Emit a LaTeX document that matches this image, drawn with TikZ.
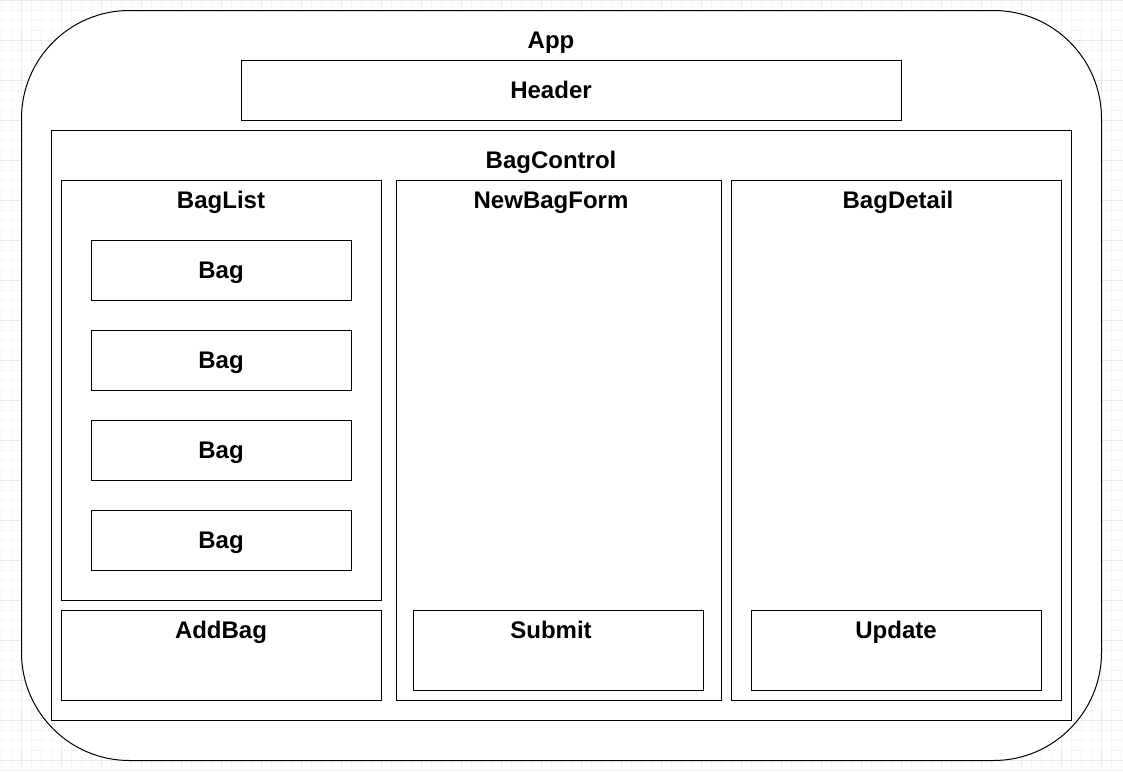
\documentclass[tikz,border=0pt]{standalone}
\usepackage{fontspec}
\setmainfont{Liberation Sans}
\usetikzlibrary{positioning}
\newcommand{\minorgrid}{black!4}
\newcommand{\majorgrid}{black!8}
\newcommand{\lblfont}{\fontsize{12}{14}\selectfont\bfseries}

\begin{document}
\begin{tikzpicture}[x=0.5pt,y=-0.5pt,
        comp/.style 2 args={draw, line width=0.5pt, fill=white, anchor=north west,
            inner sep=0pt, minimum width={#1*0.5pt}, minimum height={#2*0.5pt}},
        lbl/.style={anchor=base, inner sep=0pt, font=\lblfont}]
        \useasboundingbox (0,0) rectangle (1123,771);
        %\fill[white] (0,0) rectangle (1123,771);
        \foreach \gx in {1,11,...,1121} \draw[\minorgrid, line width=0.3pt] (\gx,0) -- (\gx,771);
        \foreach \gy in {0,10,...,770} \draw[\minorgrid, line width=0.3pt] (0,\gy) -- (1123,\gy);
        \foreach \gx in {21,61,...,1101} \draw[\majorgrid, line width=0.3pt] (\gx,0) -- (\gx,771);
        \foreach \gy in {0,40,...,760} \draw[\majorgrid, line width=0.3pt] (0,\gy) -- (1123,\gy);
        % App
        \node[comp={1080}{750}, rounded corners=54pt] (app) at (21,10) {};
        \node[lbl] (applbl) at (551,48.5) {App};
        \node[comp={660}{60}] (header) at (241,60) {};
        \node[lbl] (headerlbl) at (551,98.5) {Header};
        % BagControl
        \node[comp={1020}{590}] (bagcontrol) at (51,130) {};
        \node[lbl] (bagcontrollbl) at (551,168.5) {BagControl};
        % BagList
        \node[comp={320}{420}] (baglist) at (61,180) {};
        \node[lbl] (bagliststlbl) at (221,208.5) {BagList};
        \foreach \by/\bname in {240/baga,330/bagb,420/bagc,510/bagd} {
            \node[comp={260}{60}] (\bname) at (91,\by) {};
            \node[lbl] (\bname lbl) at (221,\by+38.5) {Bag};
        }
        \node[comp={320}{90}] (addbag) at (61,610) {};
        \node[lbl] (addbaglbl) at (221,638.5) {AddBag};
        % NewBagForm
        \node[comp={325}{520}] (newbagform) at (396,180) {};
        \node[lbl] (newbagformlbl) at (551,208.5) {NewBagForm};
        \node[comp={290}{80}] (submit) at (413,610) {};
        \node[lbl] (submitlbl) at (551,638.5) {Submit};
        % BagDetail
        \node[comp={330}{520}] (bagdetail) at (731,180) {};
        \node[lbl] (bagdetaillbl) at (898,208.5) {BagDetail};
        \node[comp={290}{80}] (update) at (751,610) {};
        \node[lbl] (updatelbl) at (896,638.5) {Update};
    \end{tikzpicture}
\end{document}
